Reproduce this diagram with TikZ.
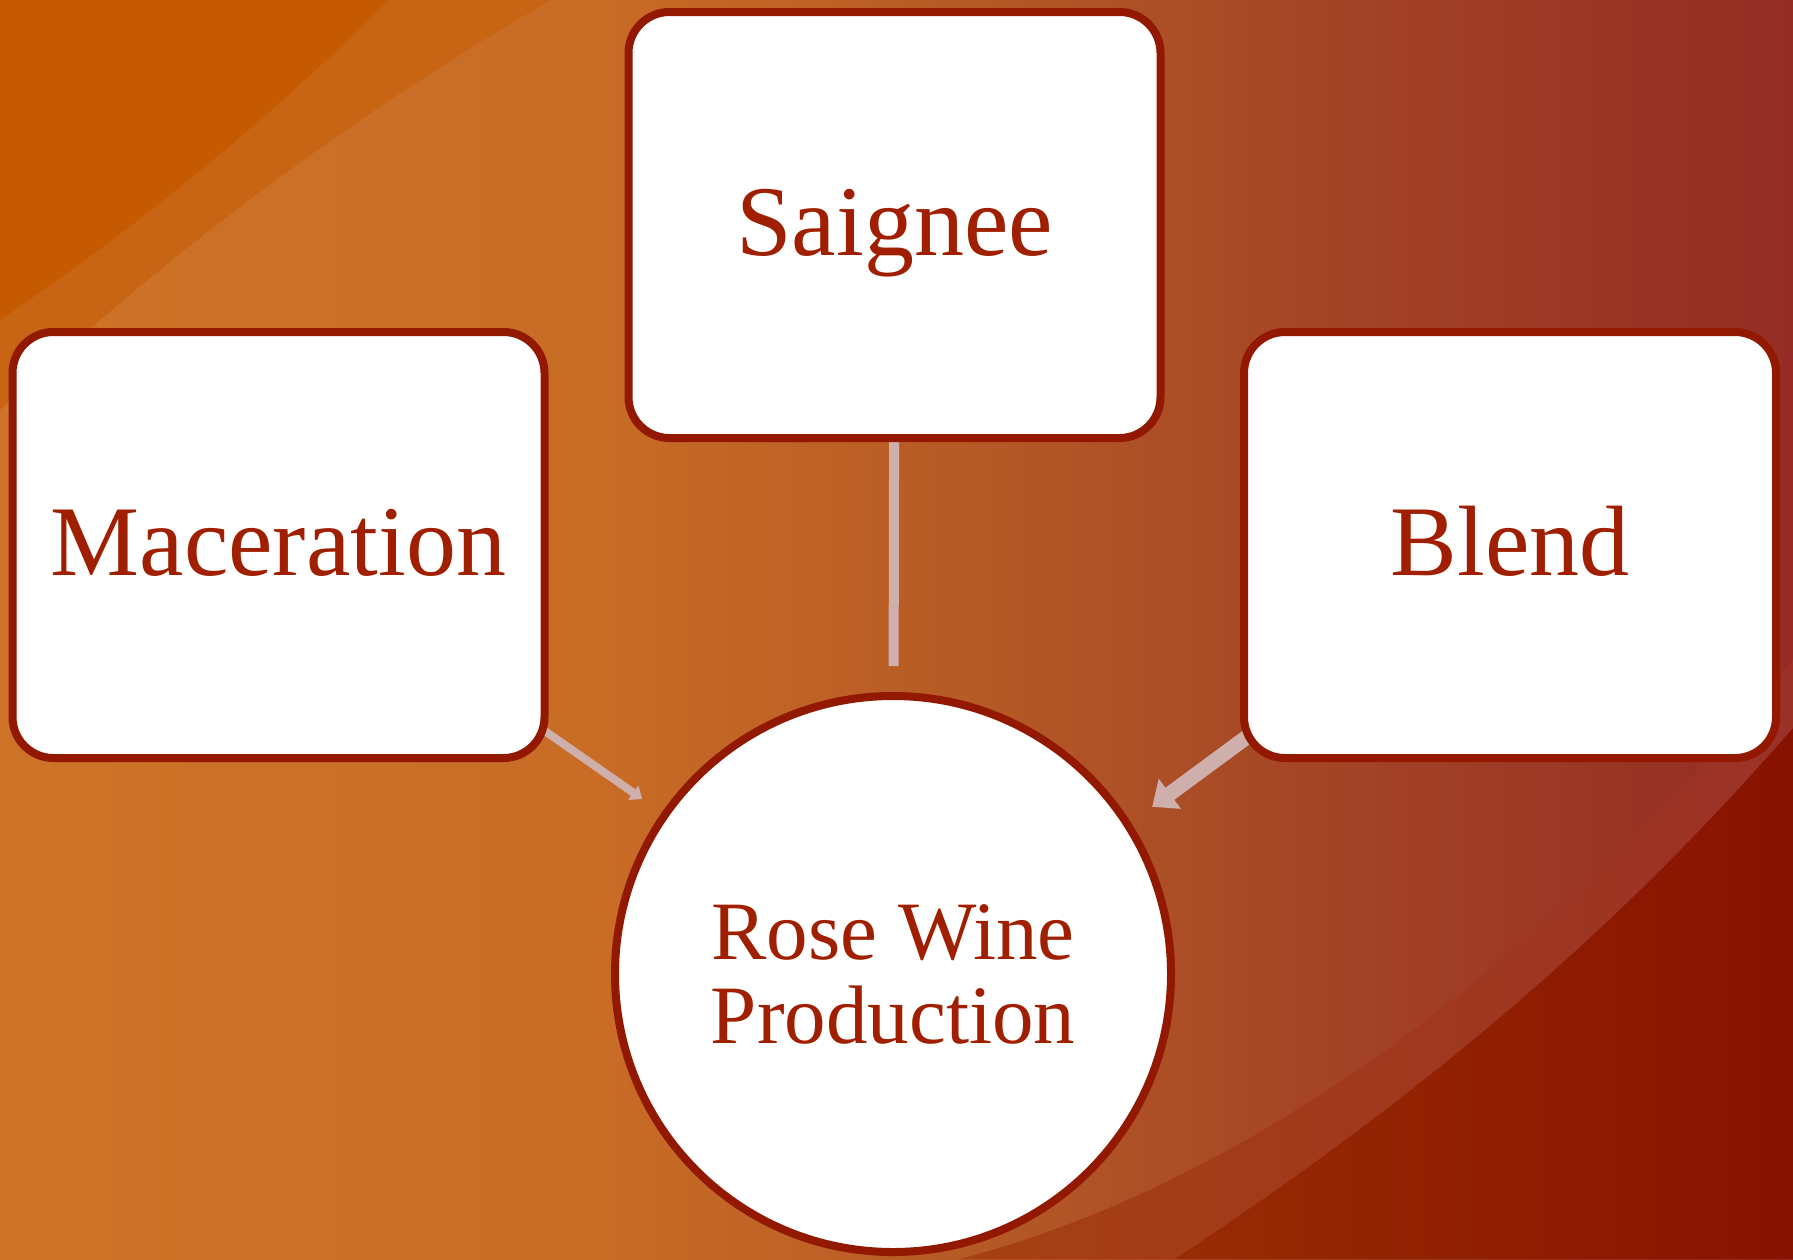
\documentclass[tikz,border=0pt]{standalone}
\usepackage{fontspec}
\setmainfont{Liberation Serif}
\usetikzlibrary{arrows.meta,calc}
\definecolor{bga}{RGB}{205,116,40}
\definecolor{bgb}{RGB}{200,108,38}
\definecolor{bgc}{RGB}{180,88,38}
\definecolor{bgd}{RGB}{161,64,38}
\definecolor{bge}{RGB}{148,44,36}
\definecolor{tlcornercol}{RGB}{197,90,0}
\definecolor{tlbandcol}{RGB}{200,101,20}
\definecolor{bandl}{RGB}{166,64,18}
\definecolor{bandr}{RGB}{154,50,40}
\definecolor{darkl}{RGB}{152,44,4}
\definecolor{darkr}{RGB}{136,18,0}
\definecolor{bordercol}{RGB}{146,24,0}
\definecolor{textcol}{RGB}{160,31,0}
\definecolor{conncol}{RGB}{206,175,172}
\pgfdeclarehorizontalshading{bgshade}{100bp}{color(0bp)=(bga); color(25bp)=(bga); color(41.7bp)=(bgb); color(52.9bp)=(bgc); color(64bp)=(bgd); color(75bp)=(bge); color(100bp)=(bge)}
\pgfdeclarelayer{bglayer}
\pgfdeclarelayer{connlayer}
\pgfsetlayers{bglayer,connlayer,main}
\begin{document}
\begin{tikzpicture}[x=1pt,y=-1pt,
  boxnode/.style={draw=bordercol, line width=8pt, fill=white, rounded corners=41pt,
    minimum width=532pt, minimum height=426pt, inner sep=0pt, text=textcol,
    font=\fontsize{100}{110}\selectfont, text height=60pt, text depth=0pt},
  circnode/.style={draw=bordercol, line width=8pt, fill=white, circle,
    minimum size=556pt, inner sep=0pt, text=textcol, align=center,
    font=\fontsize{83}{84}\selectfont},
  conn/.style={draw=conncol}
]
\useasboundingbox (0,0) rectangle (1793,1259);

\node[boxnode] (sai) at (894.5,225) {Saignee};
\node[boxnode] (mac) at (278.5,545) {Maceration};
\node[boxnode] (ble) at (1510,545) {Blend};
\node[circnode] (rose) at (893,974) {Rose Wine\\Production};

\begin{pgfonlayer}{bglayer}
  \shade[shading=bgshade] (0,0) rectangle (1793,1259);
  \fill[tlbandcol] (0,0) -- (551,0) .. controls (360,110) and (170,250) .. (0,410) -- cycle;
  \fill[tlcornercol] (0,0) -- (389,0) .. controls (269,119) and (140,225) .. (0,320) -- cycle;
  \begin{scope}
    \clip (1793,660) .. controls (1600,900) and (1300,1170) .. (960,1259) -- (1793,1259) -- cycle;
    \shade[left color=bandl, right color=bandr] (950,0) rectangle (1793,1259);
  \end{scope}
  \begin{scope}
    \clip (1793,728) .. controls (1600,950) and (1400,1110) .. (1175,1259) -- (1793,1259) -- cycle;
    \shade[left color=darkl, right color=darkr] (1170,0) rectangle (1793,1259);
  \end{scope}
\end{pgfonlayer}

\begin{pgfonlayer}{connlayer}
  \draw[conn, line width=8pt, -{Triangle[width=17pt,length=11pt]}]
    ($(mac.center)!0.4325!(rose.center)$) -- ($(mac.center)!0.592!(rose.center)$);
  \draw[conn, line width=10pt]
    ($(sai.center)!0.2897!(rose.center)$) -- ($(sai.center)!0.5888!(rose.center)$);
  \draw[conn, line width=15pt, -{Triangle[width=36pt,length=22pt]}]
    ($(ble.center)!0.426!(rose.center)+(0,9)$) -- ($(ble.center)!0.58!(rose.center)+(0,13)$);
\end{pgfonlayer}
\end{tikzpicture}
\end{document}
